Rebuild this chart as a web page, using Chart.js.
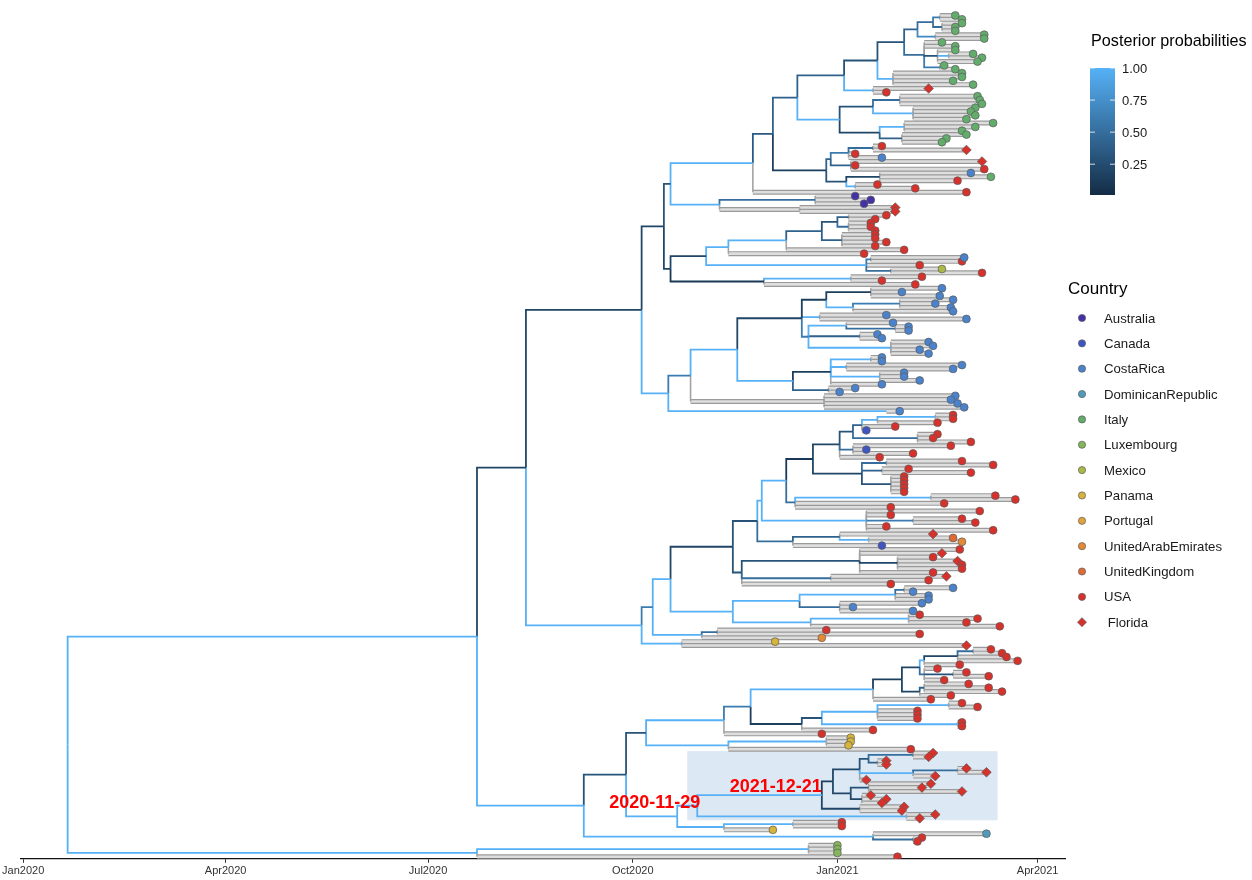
<!DOCTYPE html>
<html>
<head>
<meta charset="UTF-8">
<title>Phylogeny</title>
<script src="https://cdn.jsdelivr.net/npm/chart.js@4.4.0/dist/chart.umd.min.js"></script>
<style>
  body { margin: 0; background: #fff; }
  #wrap { width: 1252px; height: 880px; }
</style>
</head>
<body>
<div id="wrap"><canvas id="tree" width="1252" height="880"></canvas></div>
<script>
// ---------- data ----------
// dates are days since 2020-01-01
var tickValues = [0, 91, 182, 274, 366, 456];
var tickLabels = ['Jan2020', 'Apr2020', 'Jul2020', 'Oct2020', 'Jan2021', 'Apr2021'];
var countryNames = ['Australia', 'Canada', 'CostaRica', 'DominicanRepublic', 'Italy', 'Luxembourg', 'Mexico',
                    'Panama', 'Portugal', 'UnitedArabEmirates', 'UnitedKingdom', 'USA', ' Florida'];
var countryCodes = ['A', 'Ca', 'CR', 'D', 'I', 'L', 'M', 'Pa', 'Po', 'AE', 'UK', 'U', 'F'];
var posteriorTicks = [1.00, 0.75, 0.50, 0.25];
var nodeLabelTags = ['L1', 'L2'];
var nodeLabelTexts = ['2020-11-29', '2021-12-21'];
var highlightTag = 'L1';

// clades: tip = country@day, node = (children)day:posterior  ('-' = no posterior), #tag optional
var cItaly1 = '((((I@419,I@422)412:0.6,(I@422,I@419,I@419)413:0.5)409:0.5,(I@432,I@432)410:0.7)402:0.4,' +
              '(I@413,I@419,(I@419,(I@427,I@431)416:1,I@429)411:0.3,(I@414,I@419)412:0.6)405:0.5)396:0.3';
var cItaly1b = '(' + cItaly1 + ',(I@422,I@422,I@418,I@427)391:1)384:0.3';
var cItaly1c = '(' + cItaly1b + ',(F@407,U@388)382:1)369:0.4';
var cItaly2 = '(((I@429,I@430,I@431)394:0.5,(I@428,I@426,I@428,I@424)400:1)382:0.3,' +
              '((I@436,I@428,I@422)396:1,(I@424,I@415,I@413)395:0.4)385:0.2)367:1';
var cItaly = '(' + cItaly1c + ',' + cItaly2 + ')348:0.4';
var cUsaTop = '((((U@386,F@424)382:0.5,U@374,CR@386)371:0.6,(F@431,U@374,U@432)372:0.4)363:0.4,' +
              '((CR@426,I@435,U@420)385:0.2,(U@384,U@401)374:1)370:0.3)361:0.15';
var cTop = '((' + cItaly + ',' + cUsaTop + ')337:0.35,U@424)328:1';
var cAustralia = '((A@374,A@381,A@378)356:0.5,(F@392,F@392)349:-)313:1';
var cRedA = '(((((U@388,U@383)371:0.4,(U@381,U@381,U@383)371:0.5)366:0.3,(U@383,U@383,U@388,U@383)368:0.4)359:0.4,U@396)343:1,U@378)317:1';
var cRedB = '((CR@423,U@422)381:0.6,U@403,(M@413,U@431)390:0.5)379:1';
var cRedC = '((U@404,U@386)372:1,U@401)333:0.1';
var cUpper = '((' + cTop + ',' + cAustralia + ')291:0.3,((' + cRedA + ',' + cRedB + ')307:0.2,' + cRedC + ')291:0.2)288:0.2';

var cCostaA = '(((CR@413,CR@395,CR@412)381:0.15,((CR@418,CR@410,CR@417)394:0.6,CR@418)373:1)361:0.15,(CR@388,CR@424)358:1,' +
              '((CR@391,(CR@398,CR@398)392:0.5)370:1,(CR@384,CR@386)376:0.4,(CR@407,CR@409,CR@403,CR@407)390:1)353:0.6)350:0.2';
var cCostaB = '(((CR@386,CR@386)381:1,(CR@422,CR@418)370:1,(CR@396,CR@396,CR@403)385:1,CR@386)363:0.15,(CR@374,CR@367)362:0.4)346:1';
var cCosta = '(((' + cCostaA + ',' + cCostaB + ')321:1,(CR@419,CR@417,CR@420,CR@423)360:-)300:0.6,(CR@394)388:1)290:1';
var cUpperAll = '(' + cUpper + ',' + cCosta + ')278:0.2';

var cMid1 = '(((U@418,U@418)410:1,U@411)384:1,U@392,Ca@379)377:0.4';
var cMid2 = '((' + cMid1 + ',(U@411,U@409,U@426)402:0.5)373:0.3,(U@417,Ca@379,U@400)373:0.5,U@385)367:0.2';
var cMid3 = '(' + cMid2 + ',((U@422,U@436)388:0.5,(U@398,U@426)386:0.4,(U@396,U@396,U@396,U@396,U@396)390:0.3)377:0.2)355:0.1';
var cMid4 = '(' + cMid3 + ',((U@437,U@446)408:1,U@414,U@390)347:0.5)343:1';
var cMid5 = '(' + cMid4 + ',(U@430,U@390,(U@422,U@428)400:0.6,U@388,U@436)379:1)332:1';
var cMid6 = '(' + cMid5 + ',((F@409,(UK@418,AE@422)380:1)367:0.4,Ca@386)346:0.5)330:0.3';
var cMid7 = '(' + cMid6 + ',((U@421,F@413,(U@409,F@420,U@422,U@422)393:0.2,U@409)376:0.3,(F@415,U@407)363:0.5,U@390)323:0.3)319:0.2';
var cMid8 = '((((CR@418,CR@400)396:0.5,CR@407,CR@407)392:1,(CR@404,CR@373,CR@400)367:0.5)349:1,((U@403,U@429,U@424)398:1,U@439)354:1)319:1';
var cMiddle = '(((' + cMid7 + ',' + cMid8 + ')291:1,((U@361,U@403)312:0.5,AE@359)305:1)283:0.6,(Pa@338,F@424)296:1)278:1';
var cUpperHalf = '(' + cUpperAll + ',' + cMiddle + ')226:0.2';

var cLow1 = '((((U@435,U@440)427:0.5,U@442,U@447)420:0.2,U@421)405:1,(U@411,(U@424,U@434)418:0.3,U@414)405:0.5)403:0.2';
var cLow2 = '((' + cLow1 + ',((U@425,U@434,U@440)405:0.4,U@417)403:0.2)395:0.15,U@408)382:1';
var cLow3 = '((((U@422,U@429)416:1,U@402,U@402,U@402)384:1,(U@422,U@422)420:1)359:0.3,U@382)350:0.15';
var cLow4 = '(((' + cLow2 + ',' + cLow3 + ')327:0.6,U@359)315:1,((Pa@372,Pa@372,Pa@371)361:1,U@399)317:1)280:0.3';
var cFla1 = '(((F@409,F@407)400:0.5,(F@388,F@388)384:0.4)380:0.3,((F@424,F@433)420:0.5,F@410)400:1,F@379)376:0.2';
var cFla2 = '((F@408,F@404,F@422)380:0.3,(F@381,F@388,F@386)377:0.2)372:0.2';
var cFlorida = '(((' + cFla1 + ',' + cFla2 + ')364:0.15,(F@396,F@395)376:0.2)359:1#L2,(F@410,F@403)397:1)303:1#L1';
var cLow5 = '(' + cFlorida + ',((U@368,U@368)346:1,Pa@337)315:1)294:1';
var cLowerHalf = '((' + cLow4 + ',' + cLow5 + ')271:0.3,(D@433,(U@404,U@402)400:0.5)382:1)252:1';
var cBottom = '((L@366,L@366,L@366)353:1,U@393)204:1';
var treeString = '((' + cUpperHalf + ',' + cLowerHalf + ')204:1,' + cBottom + ')20:1';

// ---------- styles ----------
var countryColors = ['#4431a8', '#3f56c2', '#4a82cb', '#4f9bb9', '#63ad6c', '#84b55b', '#abba46',
                     '#d4b43b', '#e2a33a', '#e48a36', '#e06a36', '#d6312b', '#d6312b'];
var FONT = '"Liberation Sans", Arial, Helvetica, sans-serif';
var labelDy = [-3, -8];

function postColor(p) {
    var lo = [19, 43, 67], hi = [86, 177, 247];
    return 'rgb(' + lo.map(function (c, k) { return Math.round(c + (hi[k] - c) * p); }).join(',') + ')';
}

// ---------- parse newick-like string ----------
function parseTree(s) {
    var i = 0;
    function node() {
        var n = { kids: [] };
        if (s[i] === '(') {
            i++;
            n.kids.push(node());
            while (s[i] === ',') { i++; n.kids.push(node()); }
            i++; // ')'
        }
        var j = i;
        while (i < s.length && s[i] !== ',' && s[i] !== ')') i++;
        var lab = s.slice(j, i);
        if (n.kids.length) {
            var parts = lab.split('#');
            var dp = parts[0].split(':');
            n.day = +dp[0];
            n.post = dp[1] === '-' ? null : +dp[1];
            n.tag = parts[1] || null;
        } else {
            var cd = lab.split('@');
            n.code = cd[0];
            n.day = +cd[1];
            n.post = null;
        }
        return n;
    }
    return node();
}

var root = parseTree(treeString);
var tips = [];
var tagged = {};
function layout(n) {
    if (n.tag) tagged[n.tag] = n;
    if (!n.kids.length) { n.y = tips.length; tips.push(n); return; }
    n.kids.forEach(layout);
    n.y = (n.kids[0].y + n.kids[n.kids.length - 1].y) / 2;
}
layout(root);

function tipsUnder(n, out) {
    out = out || [];
    if (!n.kids.length) out.push(n);
    n.kids.forEach(function (k) { tipsUnder(k, out); });
    return out;
}

// ---------- datasets ----------
var datasets = [];
function seg(points, color, width, order) {
    return { data: points, showLine: true, borderColor: color, borderWidth: width, pointRadius: 0,
             fill: false, tension: 0, order: order, borderCapStyle: 'butt', borderJoinStyle: 'miter' };
}
function addBranches(n) {
    n.kids.forEach(function (k) {
        var vert = [{ x: n.day, y: n.y }, { x: n.day, y: k.y }];
        var horiz = [{ x: n.day, y: k.y }, { x: k.day, y: k.y }];
        if (k.post === null) {
            datasets.push(seg(vert, '#a3a3a3', 1.6, 3));
            datasets.push(seg(horiz, '#9a9a9a', 5, 5));
            datasets.push(seg(horiz, '#dedede', 2.6, 4));
        } else {
            datasets.push(seg(vert.concat([horiz[1]]), postColor(k.post), 1.8, 2));
        }
        addBranches(k);
    });
}
addBranches(root);

countryCodes.forEach(function (code, ci) {
    var pts = tips.filter(function (t) { return t.code === code; })
                  .map(function (t) { return { x: t.day, y: t.y }; });
    var fl = code === 'F';
    datasets.push({
        data: pts, showLine: false, order: 0,
        pointStyle: fl ? 'rectRot' : 'circle',
        pointRadius: fl ? 4.8 : 3.9,
        pointBackgroundColor: countryColors[ci],
        pointBorderColor: '#5c5c5c',
        pointBorderWidth: 0.7
    });
});

// ---------- extras: highlight, node labels, legends ----------
var extras = {
    id: 'extras',
    beforeDatasetsDraw: function (chart) {
        var xs = chart.scales.x, ys = chart.scales.y, ctx = chart.ctx;
        var h = tagged[highlightTag];
        var sub = tipsUnder(h);
        var maxDay = Math.max.apply(null, sub.map(function (t) { return t.day; }));
        var x0 = xs.getPixelForValue(h.day - 4.5), x1 = xs.getPixelForValue(maxDay + 5);
        var y0 = ys.getPixelForValue(sub[0].y - 0.5), y1 = ys.getPixelForValue(sub[sub.length - 1].y + 0.5);
        ctx.save();
        ctx.fillStyle = '#dce8f3';
        ctx.fillRect(x0, y0, x1 - x0, y1 - y0);
        ctx.restore();
    },
    afterDatasetsDraw: function (chart) {
        var xs = chart.scales.x, ys = chart.scales.y, ctx = chart.ctx;
        ctx.save();
        ctx.font = 'bold 18px ' + FONT;
        ctx.fillStyle = '#ff0000';
        ctx.textAlign = 'right';
        ctx.textBaseline = 'middle';
        nodeLabelTags.forEach(function (tg, i) {
            var n = tagged[tg];
            ctx.fillText(nodeLabelTexts[i], xs.getPixelForValue(n.day) + (i ? 0 : 3), ys.getPixelForValue(n.y) + labelDy[i]);
        });
        ctx.restore();
    },
    afterDraw: function (chart) {
        var ctx = chart.ctx;
        ctx.save();
        // posterior colour bar
        ctx.fillStyle = '#000';
        ctx.font = '16.2px ' + FONT;
        ctx.textAlign = 'left';
        ctx.textBaseline = 'middle';
        ctx.fillText('Posterior probabilities', 1091, 42);
        var bx = 1090, bw = 25, top = 68, bot = 195, vmin = 0.01;
        var g = ctx.createLinearGradient(0, top, 0, bot);
        g.addColorStop(0, postColor(1));
        g.addColorStop(1, postColor(vmin));
        ctx.fillStyle = g;
        ctx.fillRect(bx, top, bw, bot - top);
        ctx.font = '13px ' + FONT;
        posteriorTicks.forEach(function (v) {
            var y = bot - (v - vmin) / (1 - vmin) * (bot - top);
            ctx.strokeStyle = 'rgba(255,255,255,0.8)';
            ctx.lineWidth = 1;
            ctx.beginPath();
            ctx.moveTo(bx, y); ctx.lineTo(bx + 5, y);
            ctx.moveTo(bx + bw - 5, y); ctx.lineTo(bx + bw, y);
            ctx.stroke();
            ctx.fillStyle = '#1a1a1a';
            ctx.fillText(v.toFixed(2), 1122, y + 1);
        });
        // country legend
        ctx.fillStyle = '#000';
        ctx.font = '17px ' + FONT;
        ctx.fillText('Country', 1068, 289);
        ctx.font = '13.2px ' + FONT;
        countryNames.forEach(function (name, i) {
            var y = 318 + i * 25.35;
            ctx.fillStyle = countryColors[i];
            ctx.strokeStyle = '#5c5c5c';
            ctx.lineWidth = 0.7;
            ctx.beginPath();
            if (countryCodes[i] === 'F') {
                ctx.moveTo(1082, y - 4.5); ctx.lineTo(1086.5, y); ctx.lineTo(1082, y + 4.5); ctx.lineTo(1077.5, y);
                ctx.closePath();
            } else {
                ctx.arc(1082, y, 3.6, 0, Math.PI * 2);
            }
            ctx.fill();
            ctx.stroke();
            ctx.fillStyle = '#1a1a1a';
            ctx.fillText(name, 1104, y + 1);
        });
        ctx.restore();
    }
};

// ---------- chart ----------
var chart = new Chart(document.getElementById('tree').getContext('2d'), {
    type: 'scatter',
    data: { datasets: datasets },
    plugins: [extras],
    options: {
        responsive: false,
        animation: false,
        events: [],
        layout: { padding: { left: 20, right: 187, top: 5, bottom: 0 } },
        plugins: { legend: { display: false }, tooltip: { enabled: false } },
        scales: {
            x: {
                type: 'linear', min: -0.9, max: 468.3,
                afterBuildTicks: function (scale) {
                    scale.ticks = tickValues.map(function (v) { return { value: v }; });
                },
                ticks: {
                    autoSkip: false, maxRotation: 0, padding: 2,
                    color: '#333', font: { family: FONT, size: 11 },
                    callback: function (value) {
                        var i = tickValues.indexOf(value);
                        return i >= 0 ? tickLabels[i] : '';
                    }
                },
                grid: { drawOnChartArea: false, drawTicks: true, tickLength: 4, color: '#333' },
                border: { display: true, color: '#111', width: 1.3 }
            },
            y: { type: 'linear', reverse: true, min: -2.6, max: 219.53, display: false }
        }
    }
});
</script>
</body>
</html>
